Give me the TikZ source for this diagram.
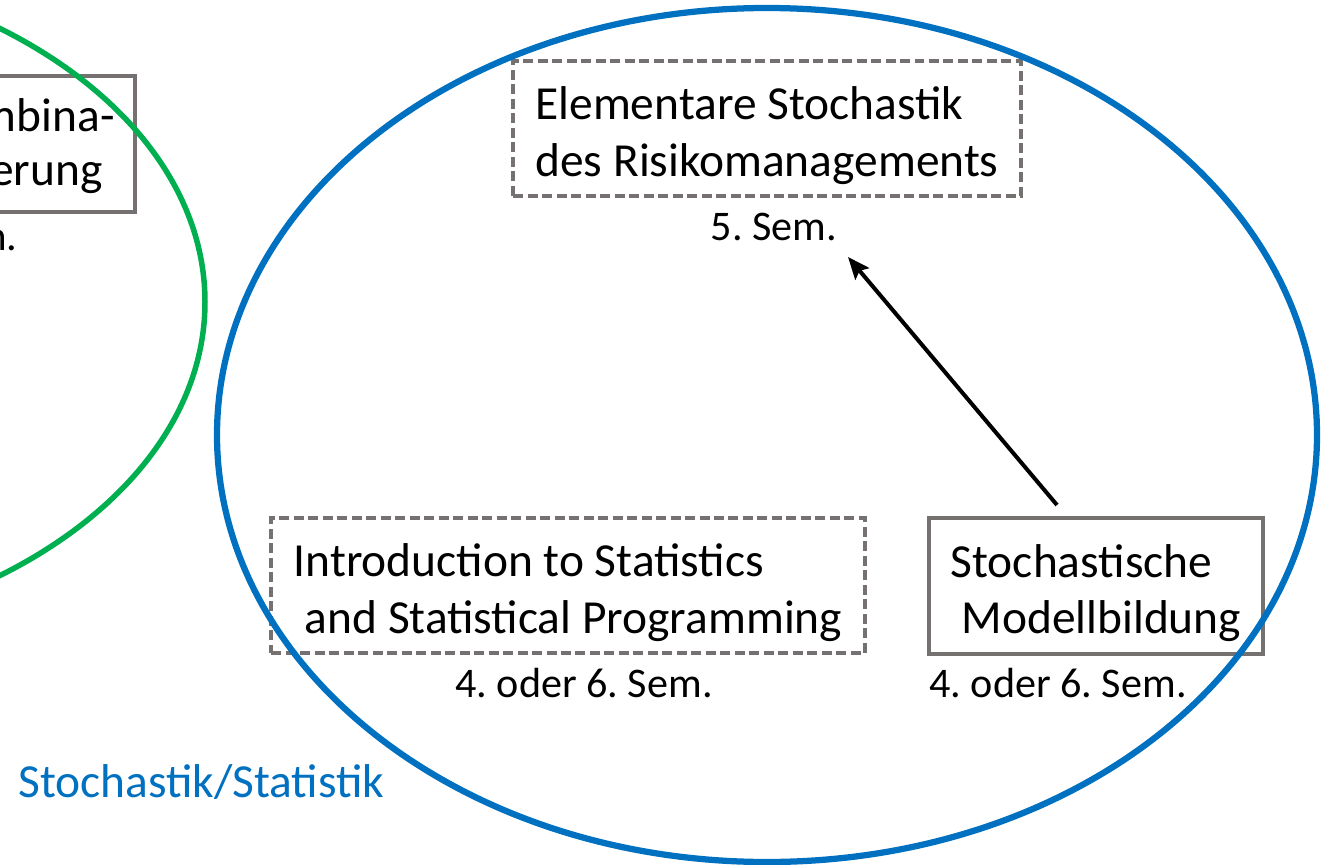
\documentclass[tikz,border=0pt]{standalone}
\usepackage{fontspec}
\setmainfont{Carlito}
\usetikzlibrary{arrows.meta}
\definecolor{boxgray}{RGB}{118,113,113}
\definecolor{stochblue}{RGB}{0,112,192}
\definecolor{kombigreen}{RGB}{0,176,80}
\frenchspacing
\begin{document}
\begin{tikzpicture}[x=0.02cm, y=-0.02cm,
  modul/.style={draw=boxgray, line width=0.075cm, align=left, inner sep=0pt,
    text height=1.92cm, text depth=0pt, font=\fontsize{27}{32.4}\selectfont},
  plan/.style={modul, dash pattern=on 0.2cm off 0.09cm},
  sem/.style={anchor=base, font=\fontsize{24}{28}\selectfont},
  cut/.style={anchor=base east, inner sep=0pt, font=\fontsize{27}{32.4}\selectfont},
  arr/.style={-{Stealth[length=0.44cm, width=0.36cm, inset=0.08cm]}, line width=0.08cm}]
  \useasboundingbox (0,0) rectangle (1332,865);
  \clip (0,0) rectangle (1332,865);
  \node[modul, anchor=north east, minimum width=6cm, minimum height=2.72cm] (kombi) at (137,74) {};
  \node[cut] (kombi1) at (115,132) {Kombina-};
  \node[cut] (kombi2) at (103,185) {Optimierung};
  \node[cut, font=\fontsize{24}{28}\selectfont] (kombisem) at (18,250) {3. Sem.};
  \node[plan, minimum width=10.16cm, minimum height=2.7cm] (risk) at (767,128.5)
    {Elementare Stochastik\\des Risikomanagements};
  \node[sem] (risksem) at (774,240) {5. Sem.};
  \node[plan, minimum width=11.88cm, minimum height=2.7cm] (intro) at (568,585.5)
    {Introduction to Statistics\\\hspace*{0.23em}and Statistical Programming};
  \node[sem] (introsem) at (584,697) {4. oder 6. Sem.};
  \node[modul, minimum width=6.68cm, minimum height=2.72cm] (model) at (1096,586)
    {Stochastische\\\hspace*{0.23em}Modellbildung};
  \node[sem] (modelsem) at (1058,697) {4. oder 6. Sem.};
  \node[anchor=base west, inner sep=0pt, text=stochblue, font=\fontsize{27}{32.4}\selectfont] (area) at (18,797)
    {Stochastik/Statistik};
  \coordinate (from) at (1057,505);
  \coordinate (to) at (848,257);
  \draw[arr] (from) -- (to);
  \draw[kombigreen, line width=0.11cm] (-300,302) ellipse [x radius=505, y radius=340];
  \draw[stochblue, line width=0.125cm] (767,435) ellipse [x radius=550, y radius=427];
\end{tikzpicture}
\end{document}
